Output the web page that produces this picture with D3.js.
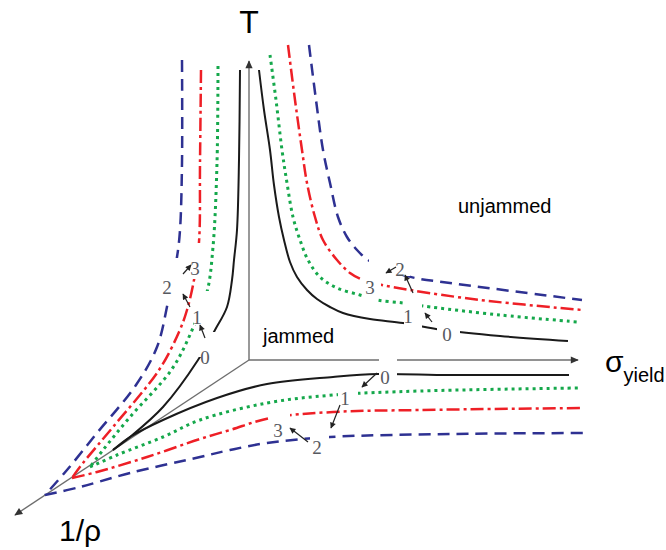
<!DOCTYPE html>
<html>
<head>
<meta charset="utf-8">
<script src="https://cdn.jsdelivr.net/npm/d3@7"></script>
<style>
  body { margin: 0; background: #fff; }
  svg { display: block; }
</style>
</head>
<body>
<div id="chart"></div>
<script>
// points are offsets from the axis origin: u to the right, v upwards
// series 0 (solid), 1 (dotted), 3 (dash-dot), 2 (dashed)
// TL = T / (1/rho) branch, TR = T / sigma branch, Bot = sigma / (1/rho) branch
const blackTL = [[-9,290],[-10,200],[-12,130],[-15,100],[-17,80],[-22,53],[-34,30],[-51,0],[-86,-47],[-119,-77],[-136,-90]];
const blackTR = [[10,290],[15,250],[21,210],[25,175],[30,143],[35,120],[41,98],[48,83],[58,70],[68,61],[81,53],[94,47],[121,41],[154,37],[194,30],[251,24],[319,19]];
const blackBot = [[-136,-90],[-119,-77],[-86,-60],[-32,-38],[18,-24],[84,-17],[129,-14],[201,-15],[320,-15]];

const greenTL = [[-31,294],[-32,197],[-36,113],[-42,68],[-56,32],[-77,-9],[-119,-57],[-146,-90],[-159,-107]];
const greenTR = [[21,305],[27,260],[33,210],[38,177],[44,143],[51,120],[59,100],[71,83],[88,72],[111,65],[128,60],[154,57],[174,54],[251,45],[329,38]];
const greenBot = [[-159,-107],[-132,-95],[-86,-77],[-49,-60],[18,-43],[84,-35],[171,-31],[329,-28]];

const redTL = [[-48,290],[-49,197],[-50,118],[-55,80],[-62,50],[-70,28],[-90,-10],[-136,-67],[-166,-103],[-177,-118]];
const redTR = [[39,315],[46,260],[53,210],[58,177],[66,143],[74,120],[88,100],[101,87],[114,80],[133,75],[161,70],[231,60],[333,50]];
const redBot = [[-177,-118],[-152,-112],[-102,-97],[-49,-79],[-19,-70],[21,-58],[84,-52],[171,-50],[334,-48]];

const blueTL = [[-67,300],[-67,197],[-69,130],[-72,103],[-81,58],[-92,13],[-113,-25],[-152,-73],[-182,-110],[-204,-135]];
const blueTR = [[60,315],[67,260],[74,210],[81,177],[89,143],[98,123],[108,110],[119,100],[141,89],[166,82],[201,77],[333,60]];
const blueBot = [[-204,-135],[-169,-127],[-119,-113],[-49,-97],[-19,-90],[18,-83],[81,-77],[201,-74],[334,-73]];

// axis ends
const axisEnds = { T: [0, 299], sigma: [329, 0], rho: [-234, -155] };

// curve labels and their pointers
const curveLabels = [
  ["3", -54, 92], ["2", -82, 73], ["1", -52, 43], ["0", -44, 3],
  ["3", 121, 73], ["2", 151, 91], ["1", 159, 44], ["0", 198, 26],
  ["0", 136, -17], ["1", 96, -38], ["3", 29, -70], ["2", 68, -87]
];
const pointers = [
  [[-66,86],[-58,95]], [[-59,53],[-66,66]], [[-44,22],[-49,35]],
  [[147,93],[137,87]], [[164,67],[156,85]], [[183,38],[176,47]],
  [[128,-13],[113,-27]], [[91,-45],[82,-68]], [[59,-82],[41,-68]]
];
// white boxes where the curves are broken around the labels: [u0, v0, u1, v1]
const breaks = [
  [-63,117,-47,81], [-89,102,-64,81], [-91,81,-69,59], [-55,69,-37,35], [-52,28,-31,3],
  [113,83,132,67], [116,68,129,57], [120,105,161,84], [155,63,173,30],
  [188,35,211,20], [130,6,148,-22], [89,-28,109,-42], [21,-49,41,-65], [61,-71,80,-87]
];

const width = 666, height = 550;
const origin = { x: 249, y: 360 };

const x = d3.scaleLinear().domain([-origin.x, width - origin.x]).range([0, width]);
const y = d3.scaleLinear().domain([origin.y, origin.y - height]).range([0, height]);

const svg = d3.select("#chart").append("svg")
  .attr("width", width).attr("height", height);

const defs = svg.append("defs");
defs.append("marker")
    .attr("id", "axisHead")
    .attr("viewBox", "0 0 10 10")
    .attr("refX", 9).attr("refY", 5)
    .attr("markerWidth", 9).attr("markerHeight", 8)
    .attr("markerUnits", "userSpaceOnUse")
    .attr("orient", "auto")
  .append("path").attr("d", "M0,0.5 L10,5 L0,9.5 Z").attr("fill", "#333");
defs.append("marker")
    .attr("id", "smallHead")
    .attr("viewBox", "0 0 10 10")
    .attr("refX", 9).attr("refY", 5)
    .attr("markerWidth", 7).attr("markerHeight", 6)
    .attr("markerUnits", "userSpaceOnUse")
    .attr("orient", "auto")
  .append("path").attr("d", "M0,0 L10,5 L0,10 Z").attr("fill", "#222");

// axes
const axisG = svg.append("g")
  .attr("stroke", "#6e6e6e")
  .attr("stroke-width", 1.4);
Object.values(axisEnds).forEach(end => {
  axisG.append("line")
    .attr("x1", x(0)).attr("y1", y(0))
    .attr("x2", x(end[0])).attr("y2", y(end[1]))
    .attr("marker-end", "url(#axisHead)");
});

// curves
const line = d3.line()
  .x(d => x(d[0]))
  .y(d => y(d[1]))
  .curve(d3.curveCatmullRom.alpha(0.5));

const series = [
  { curves: [blackTL, blackTR, blackBot], color: "#1a1a1a", width: 2, dash: null },
  { curves: [greenTL, greenTR, greenBot], color: "#15a84b", width: 3, dash: "3,4" },
  { curves: [redTL, redTR, redBot], color: "#ee1f26", width: 2.5, dash: "13,4,3,4" },
  { curves: [blueTL, blueTR, blueBot], color: "#2e3192", width: 2.5, dash: "12,7" }
];

series.forEach(s => {
  svg.append("g")
      .attr("fill", "none")
      .attr("stroke", s.color)
      .attr("stroke-width", s.width)
      .attr("stroke-dasharray", s.dash)
    .selectAll("path")
    .data(s.curves)
    .join("path")
      .attr("d", line);
});

// break the curves around the labels
svg.append("g")
    .attr("fill", "#fff")
  .selectAll("rect")
  .data(breaks)
  .join("rect")
    .attr("x", d => x(d[0]))
    .attr("y", d => y(d[1]))
    .attr("width", d => x(d[2]) - x(d[0]))
    .attr("height", d => y(d[3]) - y(d[1]));

// pointers
svg.append("g")
    .attr("stroke", "#222")
    .attr("stroke-width", 1.2)
  .selectAll("line")
  .data(pointers)
  .join("line")
    .attr("x1", d => x(d[0][0])).attr("y1", d => y(d[0][1]))
    .attr("x2", d => x(d[1][0])).attr("y2", d => y(d[1][1]))
    .attr("marker-end", "url(#smallHead)");

// curve numbers
svg.append("g")
    .attr("font-family", "'Liberation Serif', 'DejaVu Serif', serif")
    .attr("font-size", 19)
    .attr("fill", "#56595f")
    .attr("text-anchor", "middle")
    .attr("dominant-baseline", "central")
  .selectAll("text")
  .data(curveLabels)
  .join("text")
    .attr("x", d => x(d[1]))
    .attr("y", d => y(d[2]))
    .text(d => d[0]);

// axis titles and regions
const sans = "'Liberation Sans', Arial, sans-serif";
svg.append("text")
  .attr("x", x(0)).attr("y", y(327))
  .attr("text-anchor", "middle")
  .attr("font-family", sans).attr("font-size", 32)
  .text("T");

svg.append("text")
  .attr("x", x(-190)).attr("y", y(-181))
  .attr("font-family", sans).attr("font-size", 30)
  .text("1/ρ");

const sig = svg.append("text")
  .attr("x", x(356)).attr("y", y(-12))
  .attr("font-family", sans).attr("font-size", 30)
  .text("σ");
sig.append("tspan")
  .attr("font-size", 20)
  .attr("dy", 10)
  .text("yield");

svg.append("text")
  .attr("x", x(209)).attr("y", y(147))
  .attr("font-family", sans).attr("font-size", 20)
  .text("unjammed");

svg.append("text")
  .attr("x", x(14)).attr("y", y(17))
  .attr("font-family", sans).attr("font-size", 20)
  .text("jammed");
</script>
</body>
</html>
